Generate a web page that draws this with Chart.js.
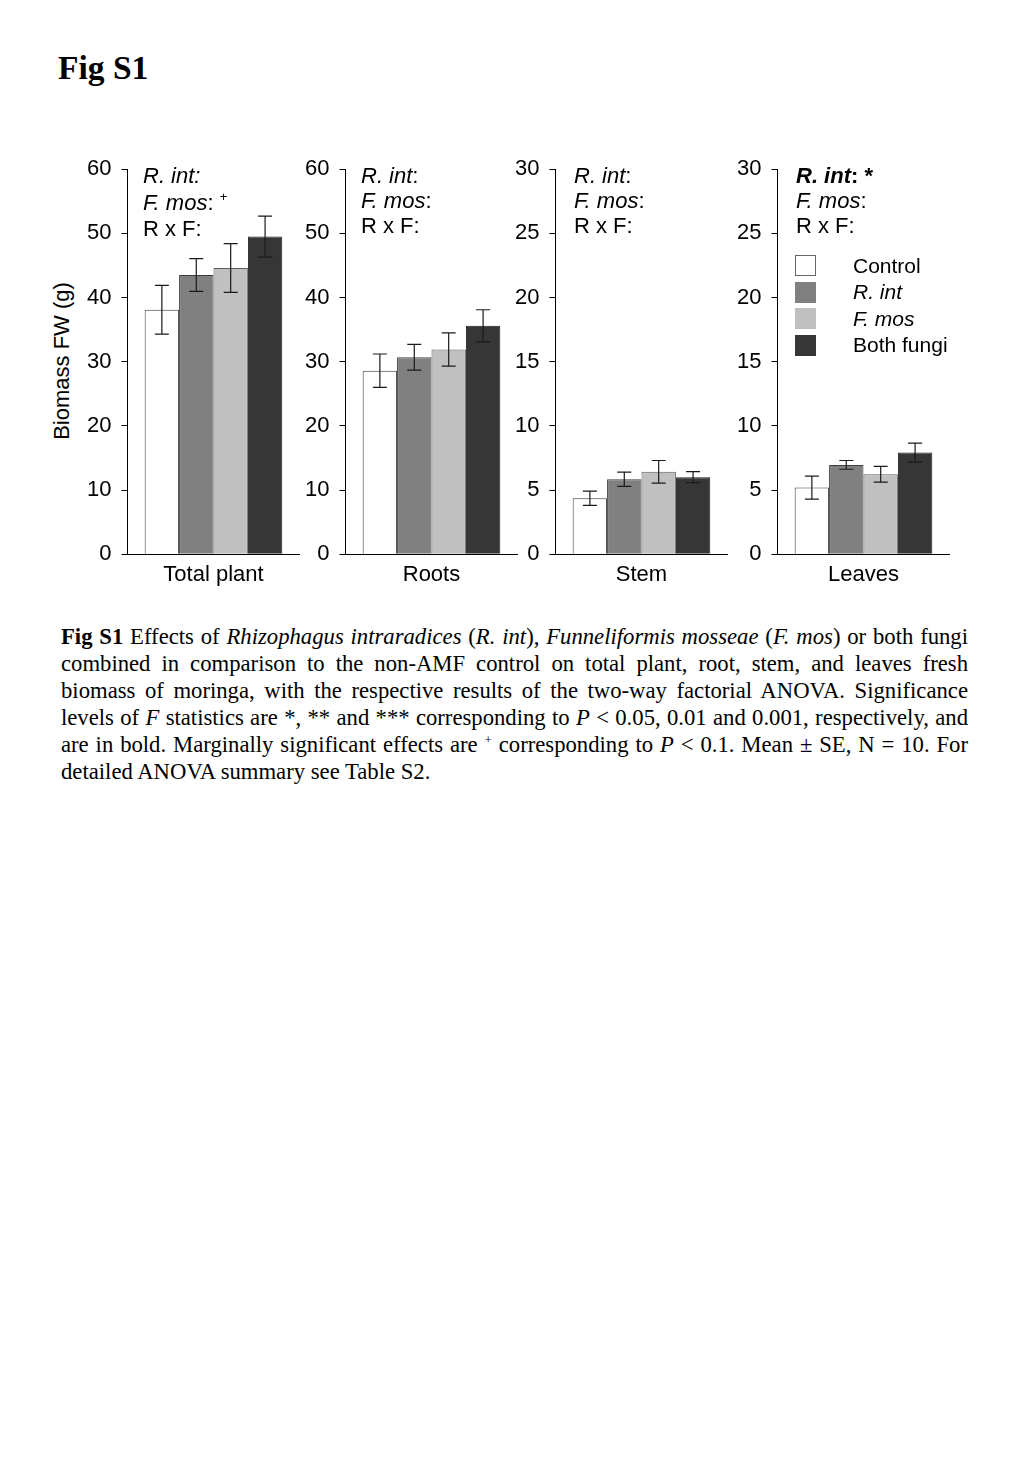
<!DOCTYPE html>
<html>
<head>
<meta charset="utf-8">
<script src="https://cdn.jsdelivr.net/npm/chart.js@4.4.1/dist/chart.umd.min.js"></script>
<style>
  body { margin: 0; background: #fff; width: 1024px; height: 1479px; position: relative; overflow: hidden; }
  .abs { position: absolute; }
  .fig-title { left: 58px; top: 49px; font: bold 33.5px "Liberation Serif", "Times New Roman", serif; }
  .ylab { font: 22px "Liberation Sans", Arial, sans-serif; white-space: nowrap; transform: translate(-50%, -50%) rotate(-90deg); left: 62px; top: 361px; }
  .anno { font: 22px "Liberation Sans", Arial, sans-serif; line-height: 25px; white-space: nowrap; color: #000; }
  .anno sup { font-size: 13px; line-height: 0; vertical-align: 9px; }
  .leg-box { width: 21px; height: 21px; box-sizing: border-box; border: 1px solid #555; }
  .leg-txt { font: 21px "Liberation Sans", Arial, sans-serif; line-height: 24px; white-space: nowrap; }
  .caption { left: 61px; width: 907px; font: 22.7px "Liberation Serif", "Times New Roman", serif; line-height: 27px; }
  .caption div { text-align: justify; text-align-last: justify; white-space: nowrap; height: 27px; }
  .caption div.last { text-align-last: left; }
  .caption sup { font-size: 13px; line-height: 0; vertical-align: 8px; }
</style>
</head>
<body>
<div class="abs fig-title">Fig S1</div>
<div class="abs ylab">Biomass FW (g)</div>

<div id="charts"></div>
<div id="annos"></div>
<div id="legend"></div>

<div class="abs caption" style="top:623px;">
  <div><b>Fig S1</b> Effects of <i>Rhizophagus intraradices</i> (<i>R. int</i>), <i>Funneliformis mosseae</i> (<i>F. mos</i>) or both fungi</div>
  <div>combined in comparison to the non-AMF control on total plant, root, stem, and leaves fresh</div>
  <div>biomass of moringa, with the respective results of the two-way factorial ANOVA. Significance</div>
  <div>levels of <i>F</i> statistics are *, ** and *** corresponding to <i>P</i> &lt; 0.05, 0.01 and 0.001, respectively, and</div>
  <div>are in bold. Marginally significant effects are <sup>+</sup> corresponding to <i>P</i> &lt; 0.1. Mean ± SE, N = 10. For</div>
  <div class="last">detailed ANOVA summary see Table S2.</div>
</div>

<script>
// ─── Data ────────────────────────────────────────────────
const panels     = ['Total plant', 'Roots', 'Stem', 'Leaves'];
const treatments = ['Control', 'R. int', 'F. mos', 'Both fungi'];

const controlMean = [38.1, 28.6, 4.36, 5.19];
const controlSE   = [3.8,  2.6,  0.55, 0.90];
const rintMean    = [43.5, 30.7, 5.84, 6.96];
const rintSE      = [2.55, 2.0,  0.56, 0.34];
const fmosMean    = [44.6, 31.9, 6.42, 6.23];
const fmosSE      = [3.8,  2.6,  0.88, 0.62];
const bothMean    = [49.5, 35.6, 6.00, 7.92];
const bothSE      = [3.2,  2.5,  0.43, 0.74];

const yMax  = [60, 60, 30, 30];
const yStep = [10, 10, 5, 5];

// ANOVA lines per panel
const annoLines = [
  ['<i>R. int:</i>', '<i>F. mos</i>: <sup>+</sup>', 'R x F:'],
  ['<i>R. int</i>:', '<i>F. mos</i>:', 'R x F:'],
  ['<i>R. int</i>:', '<i>F. mos</i>:', 'R x F:'],
  ['<b><i>R. int</i>: *</b>', '<i>F. mos</i>:', 'R x F:']
];

// ─── Styles ──────────────────────────────────────────────
const fills   = ['#ffffff', '#808080', '#c0c0c0', '#363636'];
const borders = ['#3c3c3c', '#3c3c3c', '#5e5e5e', '#1e1e1e'];
const FONT = '"Liberation Sans", Arial, sans-serif';

const axisX   = [127, 345, 555, 777];
const PLOT_W  = 172;
const PLOT_H  = 385;
const PLOT_TOP = 169;

const means = [controlMean, rintMean, fmosMean, bothMean];
const ses   = [controlSE, rintSE, fmosSE, bothSE];

// ─── Error bar plugin ────────────────────────────────────
const errorBars = {
  id: 'errorBars',
  afterDatasetsDraw(chart) {
    const ctx = chart.ctx;
    const y = chart.scales.y;
    ctx.save();
    ctx.strokeStyle = '#1a1a1a';
    ctx.lineWidth = 1.2;
    chart.data.datasets.forEach((ds, i) => {
      chart.getDatasetMeta(i).data.forEach((bar, j) => {
        const v = ds.data[j], e = ds.errors[j];
        const top = y.getPixelForValue(v + e), bot = y.getPixelForValue(v - e);
        const x = bar.x, cap = 7;
        ctx.beginPath();
        ctx.moveTo(x, top); ctx.lineTo(x, bot);
        ctx.moveTo(x - cap, top); ctx.lineTo(x + cap, top);
        ctx.moveTo(x - cap, bot); ctx.lineTo(x + cap, bot);
        ctx.stroke();
      });
    });
    ctx.restore();
  }
};

// ─── Build panels ────────────────────────────────────────
const chartsEl = document.getElementById('charts');

panels.forEach((name, p) => {
  const wrap = document.createElement('div');
  wrap.className = 'abs';
  const canvas = document.createElement('canvas');
  canvas.width = 240; canvas.height = 440;
  wrap.appendChild(canvas);
  chartsEl.appendChild(wrap);

  const chart = new Chart(canvas.getContext('2d'), {
    type: 'bar',
    data: {
      labels: [name],
      datasets: treatments.map((t, k) => ({
        label: t,
        data: [means[k][p]],
        errors: [ses[k][p]],
        backgroundColor: fills[k],
        borderColor: borders[k],
        borderWidth: 1,
        borderSkipped: 'start',
        categoryPercentage: 0.8,
        barPercentage: 1.0
      }))
    },
    options: {
      responsive: false,
      maintainAspectRatio: false,
      animation: false,
      layout: { padding: { top: 14, right: 2, left: 0, bottom: 0 } },
      plugins: { legend: { display: false }, tooltip: { enabled: false } },
      scales: {
        x: {
          grid: { display: false, drawTicks: false },
          border: { display: true, color: '#000', width: 1 },
          ticks: { color: '#000', font: { family: FONT, size: 22 }, padding: 8 }
        },
        y: {
          min: 0, max: yMax[p],
          grid: { drawOnChartArea: false, drawTicks: true, tickLength: 6, color: '#000', tickColor: '#000' },
          border: { display: true, color: '#000', width: 1 },
          ticks: { stepSize: yStep[p], color: '#000', font: { family: FONT, size: 22 }, padding: 10 }
        }
      }
    },
    plugins: [errorBars]
  });

  // Align the plot area with the reference layout
  const ca = chart.chartArea;
  const dw = PLOT_W - (ca.right - ca.left);
  const dh = PLOT_H - (ca.bottom - ca.top);
  if (dw || dh) chart.resize(chart.width + dw, chart.height + dh);
  wrap.style.left = (axisX[p] - chart.chartArea.left) + 'px';
  wrap.style.top  = (PLOT_TOP - chart.chartArea.top) + 'px';
});

// ─── ANOVA annotations ───────────────────────────────────
const annosEl = document.getElementById('annos');
annoLines.forEach((lines, p) => {
  const d = document.createElement('div');
  d.className = 'abs anno';
  d.style.left = (axisX[p] + (p >= 2 ? 19 : 16)) + 'px';
  d.style.top = (PLOT_TOP - 6) + 'px';
  if (p === 0) d.style.lineHeight = '26.5px';
  d.innerHTML = lines.map(l => `<div>${l}</div>`).join('');
  annosEl.appendChild(d);
});

// ─── Legend (inside Leaves panel) ────────────────────────
const legEl = document.getElementById('legend');
treatments.forEach((t, k) => {
  const top = 255 + k * 26.5;
  const box = document.createElement('div');
  box.className = 'abs leg-box';
  box.style.left = '795px';
  box.style.top = top + 'px';
  box.style.background = fills[k];
  box.style.borderColor = k === 0 ? '#666' : fills[k];
  legEl.appendChild(box);
  const txt = document.createElement('div');
  txt.className = 'abs leg-txt';
  txt.style.left = '853px';
  txt.style.top = (top - 1.5) + 'px';
  txt.innerHTML = (k === 1 || k === 2) ? `<i>${t}</i>` : t;
  legEl.appendChild(txt);
});
</script>
</body>
</html>
